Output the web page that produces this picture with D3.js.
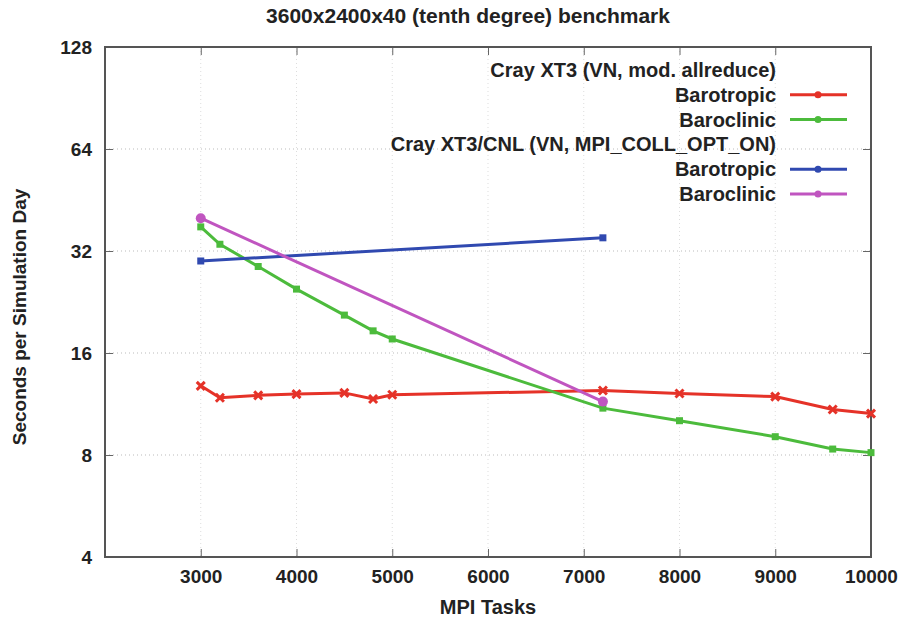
<!DOCTYPE html>
<html>
<head>
<meta charset="utf-8">
<script src="https://cdn.jsdelivr.net/npm/d3@7"></script>
<style>
  body { margin: 0; background: #fff; }
  svg text { font-family: "Liberation Sans", Arial, sans-serif; font-weight: bold; fill: #222; }
</style>
</head>
<body>
<div id="chart"></div>
<script>
// MPI task counts and seconds per simulated day
const xt3Tasks = [3000, 3200, 3600, 4000, 4500, 4800, 5000, 7200, 8000, 9000, 9600, 10000];
const xt3Barotropic = [12.8, 11.8, 12.0, 12.1, 12.2, 11.7, 12.05, 12.4, 12.15, 11.9, 10.9, 10.6];
const xt3Baroclinic = [37.7, 33.5, 28.8, 24.7, 20.7, 18.6, 17.6, 11.0, 10.1, 9.06, 8.33, 8.13];
const cnlTasks = [3000, 7200];
const cnlBarotropic = [29.9, 35.0];
const cnlBaroclinic = [40.0, 11.5];

const xTicks = [3000, 4000, 5000, 6000, 7000, 8000, 9000, 10000];
const yTicks = [4, 8, 16, 32, 64, 128];

const series = [
  { name: "Barotropic", group: 0, color: "#e53228", shape: "cross", tasks: xt3Tasks, values: xt3Barotropic },
  { name: "Baroclinic", group: 0, color: "#4cbb3c", shape: "square", tasks: xt3Tasks, values: xt3Baroclinic },
  { name: "Barotropic", group: 1, color: "#3049b0", shape: "square", tasks: cnlTasks, values: cnlBarotropic },
  { name: "Baroclinic", group: 1, color: "#c055c0", shape: "circle", tasks: cnlTasks, values: cnlBaroclinic }
];
const groupTitles = ["Cray XT3 (VN, mod. allreduce)", "Cray XT3/CNL (VN, MPI_COLL_OPT_ON)"];

const width = 906, height = 621;
const margin = { top: 47, right: 35, bottom: 64, left: 105 };
const iw = width - margin.left - margin.right;
const ih = height - margin.top - margin.bottom;

const svg = d3.select("#chart").append("svg")
  .attr("width", width)
  .attr("height", height);

const g = svg.append("g").attr("transform", `translate(${margin.left},${margin.top})`);

const x = d3.scaleLinear().domain([2000, 10000]).range([0, iw]);
const y = d3.scaleLog().base(2).domain([4, 128]).range([ih, 0]);

// dotted grid
g.append("g").selectAll("line").data(yTicks.slice(1, -1)).join("line")
  .attr("x1", 0).attr("x2", iw)
  .attr("y1", d => y(d)).attr("y2", d => y(d))
  .attr("stroke", "#bbb").attr("stroke-dasharray", "1,3");
g.append("g").selectAll("line").data(xTicks.slice(0, -1)).join("line")
  .attr("x1", d => x(d)).attr("x2", d => x(d))
  .attr("y1", 0).attr("y2", ih)
  .attr("stroke", "#ddd").attr("stroke-dasharray", "1,3");

// axes with inward ticks
const xAxis = g.append("g").attr("transform", `translate(0,${ih})`)
  .call(d3.axisBottom(x).tickValues(xTicks).tickSize(-8).tickPadding(13).tickFormat(d3.format("d")));
const xTop = g.append("g")
  .call(d3.axisTop(x).tickValues(xTicks).tickSize(-8).tickFormat(""));
const yAxis = g.append("g")
  .call(d3.axisLeft(y).tickValues(yTicks).tickSize(-8).tickPadding(13).tickFormat(d3.format("d")));
const yRight = g.append("g").attr("transform", `translate(${iw},0)`)
  .call(d3.axisRight(y).tickValues(yTicks).tickSize(-8).tickFormat(""));

[xAxis, xTop, yAxis, yRight].forEach(a => {
  a.select(".domain").remove();
  a.selectAll(".tick line").attr("stroke", "#666");
  a.selectAll("text").attr("font-size", 19).attr("fill", "#222");
});

g.append("rect")
  .attr("width", iw).attr("height", ih)
  .attr("fill", "none").attr("stroke", "#555").attr("stroke-width", 2);

const line = d3.line().x(d => x(d[0])).y(d => y(d[1]));

function marker(sel, shape, color) {
  if (shape === "circle") {
    sel.append("circle").attr("r", 5).attr("fill", color);
  } else if (shape === "cross") {
    sel.append("path").attr("d", "M-4,-4L4,4M-4,4L4,-4").attr("stroke", color).attr("stroke-width", 3);
  } else {
    sel.append("rect").attr("x", -3.5).attr("y", -3.5).attr("width", 7).attr("height", 7).attr("fill", color);
  }
}

series.forEach(s => {
  const pts = s.tasks.map((t, i) => [t, s.values[i]]);
  g.append("path").datum(pts)
    .attr("fill", "none").attr("stroke", s.color).attr("stroke-width", 3)
    .attr("d", line);
  pts.forEach(p => {
    const m = g.append("g").attr("transform", `translate(${x(p[0])},${y(p[1])})`);
    marker(m, s.shape, s.color);
  });
});

// legend
const legRows = [
  { text: groupTitles[0] },
  { text: series[0].name, s: series[0] },
  { text: series[1].name, s: series[1] },
  { text: groupTitles[1] },
  { text: series[2].name, s: series[2] },
  { text: series[3].name, s: series[3] }
];
const legX = 776, legY0 = 70, legStep = 24.8;
const leg = svg.append("g");
legRows.forEach((r, i) => {
  const yy = legY0 + i * legStep;
  leg.append("text").attr("x", legX).attr("y", yy).attr("dy", "0.35em")
    .attr("text-anchor", "end").attr("font-size", 20).text(r.text);
  if (r.s) {
    leg.append("line").attr("x1", 790).attr("x2", 847).attr("y1", yy).attr("y2", yy)
      .attr("stroke", r.s.color).attr("stroke-width", 3);
    leg.append("circle").attr("cx", 818).attr("cy", yy).attr("r", 3.5).attr("fill", r.s.color);
  }
});

// titles
svg.append("text").attr("x", 468).attr("y", 23).attr("text-anchor", "middle")
  .attr("font-size", 21).text("3600x2400x40 (tenth degree) benchmark");
svg.append("text").attr("x", 488).attr("y", 614).attr("text-anchor", "middle")
  .attr("font-size", 20).text("MPI Tasks");
svg.append("text").attr("transform", `translate(26,${margin.top + ih / 2 + 15}) rotate(-90)`)
  .attr("text-anchor", "middle").attr("font-size", 19).text("Seconds per Simulation Day");
</script>
</body>
</html>
